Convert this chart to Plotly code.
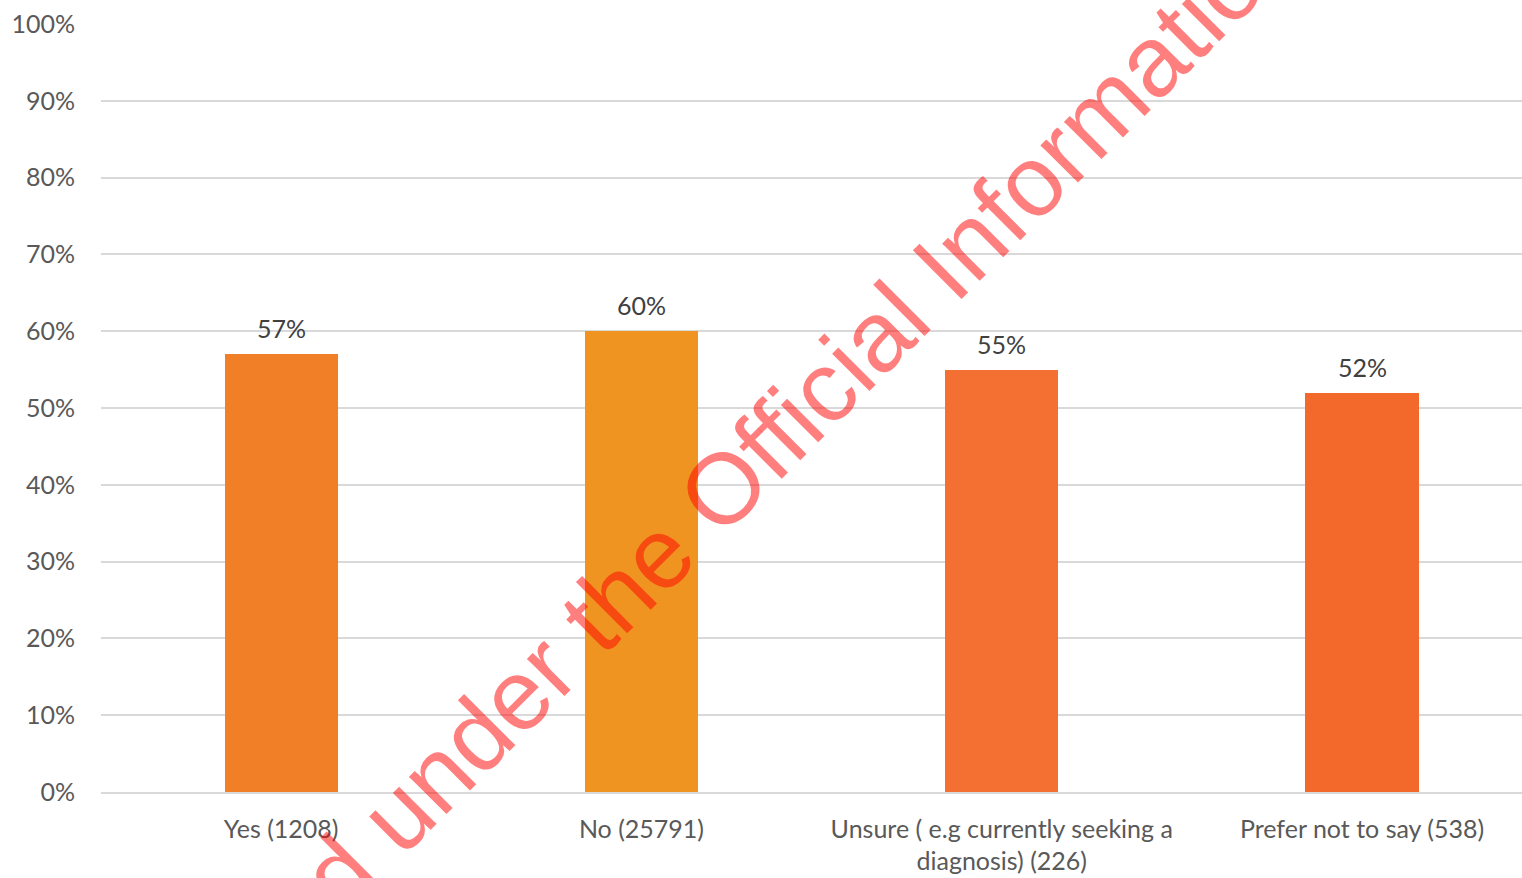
import plotly.graph_objects as go

categories = ["Yes (1208)", "No (25791)", "Unsure ( e.g currently seeking a<br>diagnosis) (226)", "Prefer not to say (538)"]
values = [0.57, 0.60, 0.55, 0.52]
labels = ["57%", "60%", "55%", "52%"]
colors = ["#F07F28", "#EF9421", "#F37032", "#F3692B"]
tick_vals = [0, 0.1, 0.2, 0.3, 0.4, 0.5, 0.6, 0.7, 0.8, 0.9, 1.0]
tick_text = ["0%", "10%", "20%", "30%", "40%", "50%", "60%", "70%", "80%", "90%", "100%"]
watermark = "Released under the Official Information Act"

FONT = "Lato"
FS = 25

fig = go.Figure(
    go.Bar(
        x=categories,
        y=values,
        marker=dict(color=colors, line=dict(width=0)),
        width=0.314,
        cliponaxis=False,
    )
)

for c, v, t in zip(categories, values, labels):
    fig.add_annotation(
        x=c, y=v, text=t, showarrow=False,
        xanchor="center", yanchor="middle", yshift=26,
        font=dict(family=FONT, size=FS, color="#404040"),
    )

fig.update_layout(
    width=1522,
    height=878,
    margin=dict(l=101, r=0, t=24, b=86),
    paper_bgcolor="white",
    plot_bgcolor="white",
    showlegend=False,
    bargap=0,
    font=dict(family=FONT, size=FS, color="#595959"),
)

fig.update_xaxes(
    range=[-0.5, 3.444],
    showline=True,
    linecolor="#D9D9D9",
    linewidth=1.5,
    showgrid=False,
    ticks="",
    ticklabelstandoff=14,
    tickfont=dict(family=FONT, size=FS, color="#595959"),
)

fig.update_yaxes(
    range=[0, 1.0],
    tickvals=tick_vals,
    ticktext=tick_text,
    showgrid=True,
    gridcolor="#D9D9D9",
    gridwidth=1.5,
    zeroline=False,
    ticks="",
    ticklabelstandoff=25,
    tickfont=dict(family=FONT, size=FS, color="#595959"),
)

fig.add_annotation(
    text=watermark,
    xref="paper",
    yref="paper",
    x=(730 - 101) / 1421,
    y=(792 - 481) / 768,
    xanchor="center",
    yanchor="middle",
    showarrow=False,
    textangle=-45,
    font=dict(family="Liberation Sans", size=100, color="rgba(255,0,0,0.5)"),
)

fig.write_html("out.html")
